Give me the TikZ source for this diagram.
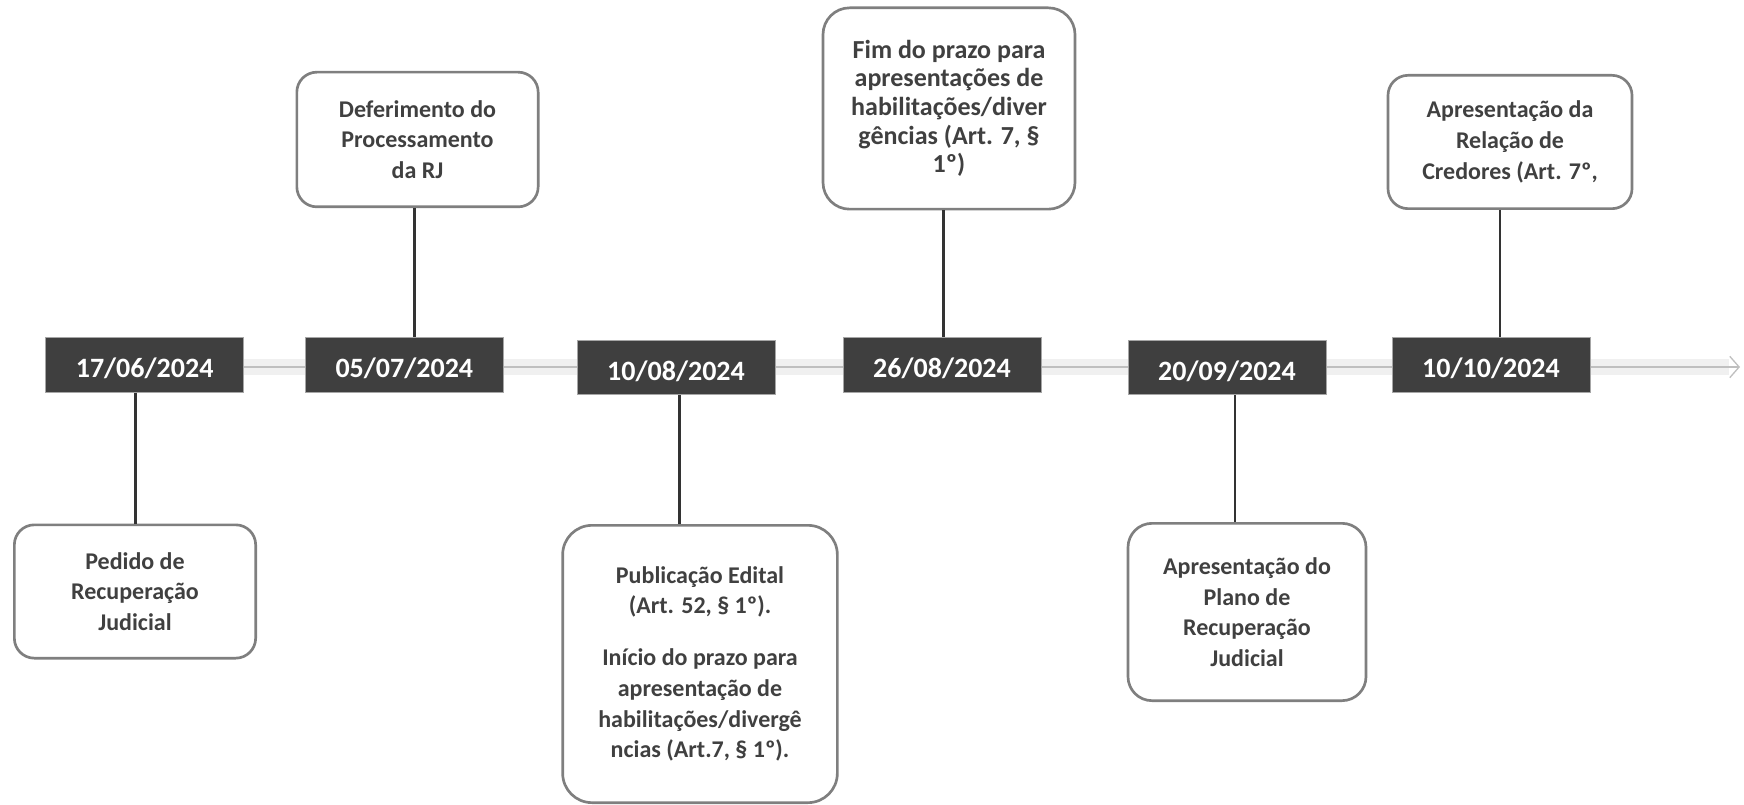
\documentclass[tikz,border=0pt]{standalone}
\usepackage{fontspec}
\setmainfont{Carlito}
\usetikzlibrary{arrows.meta}

\definecolor{datefill}{HTML}{3F3F3F}
\definecolor{boxline}{HTML}{7F7F7F}
\definecolor{boxtext}{HTML}{404040}
\definecolor{axisgray}{HTML}{BFBFBF}

\begin{document}
\begin{tikzpicture}[x=0.75pt, y=-0.75pt,
  date/.style={fill=datefill, draw=gray!70, line width=0.6pt, text=white,
    font=\fontsize{21}{25}\selectfont\bfseries, minimum width=148.5pt,
    minimum height=41pt, inner sep=0pt, text height=19pt, text depth=0pt},
  event/.style={draw=boxline, line width=2pt, rounded corners=15pt, fill=white,
    text=boxtext, align=center, font=\fontsize{18}{23}\selectfont\bfseries,
    inner sep=0pt},
  link/.style={draw=black!80, line width=2.2pt},
  axisglow/.style={draw=black!6, line width=12pt},
  axisline/.style={draw=axisgray, line width=2pt}]
 \useasboundingbox (0,0) rectangle (1744,805);

 % timeline
 \coordinate (tstart) at (45,367);
 \coordinate (tend) at (1740,367);
 \draw[axisglow] (tstart) -- ([xshift=-8pt]tend);
 \draw[axisline, -{Straight Barb[length=7pt, width=16pt, line width=1pt]}] (tstart) -- (tend);

 % dates
 \node[date] (d1) at (144.6,365) {17/06/2024};
 \node[date] (d2) at (404.3,365) {05/07/2024};
 \node[date] (d3) at (676,367.5) {10/08/2024};
 \node[date] (d4) at (942,365) {26/08/2024};
 \node[date] (d5) at (1227,367.5) {20/09/2024};
 \node[date] (d6) at (1491,365) {10/10/2024};

 % events
 \node[event, minimum width=181pt, minimum height=100pt] (e1) at (135,591.5)
  {Pedido de\\Recuperação\\Judicial};
 \node[event, minimum width=181pt, minimum height=101pt] (e2) at (417.5,139.5)
  {Deferimento do\\Processamento\\da RJ};
 \node[event, minimum width=206pt, minimum height=208pt, rounded corners=22pt] (e3) at (700,664)
  {Publicação Edital\\(Art. 52, § 1º).\\[16pt]Início do prazo para\\apresentação de\\habilitações/divergê\\ncias (Art.7, § 1º).};
 \node[event, minimum width=189pt, minimum height=151pt, rounded corners=20pt,
  font=\fontsize{19.5}{21.5}\selectfont\bfseries] (e4) at (949,108.5)
  {Fim do prazo para\\apresentações de\\habilitações/diver\\gências (Art. 7, §\\1º)};
 \node[event, minimum width=178.5pt, minimum height=133pt, rounded corners=18pt] (e5) at (1247,612)
  {Apresentação do\\Plano de\\Recuperação\\Judicial};
 \node[event, minimum width=183pt, minimum height=100pt] (e6) at (1510,142)
  {Apresentação da\\Relação de\\Credores (Art. 7º,};

 % connectors
 \draw[link] ([xshift=-6.7pt]d1.south) -- ([xshift=-6.7pt]d1.south |- e1.north);
 \draw[link] ([xshift=-2.5pt]e2.south) -- ([xshift=-2.5pt]e2.south |- d2.north);
 \draw[link] ([xshift=2.5pt]d3.south) -- ([xshift=2.5pt]d3.south |- e3.north);
 \draw[link] ([xshift=-4pt]e4.south) -- ([xshift=-4pt]e4.south |- d4.north);
 \draw[link] ([xshift=6pt]d5.south) -- ([xshift=6pt]d5.south |- e5.north);
 \draw[link] ([xshift=-7.5pt]e6.south) -- ([xshift=-7.5pt]e6.south |- d6.north);
\end{tikzpicture}
\end{document}
